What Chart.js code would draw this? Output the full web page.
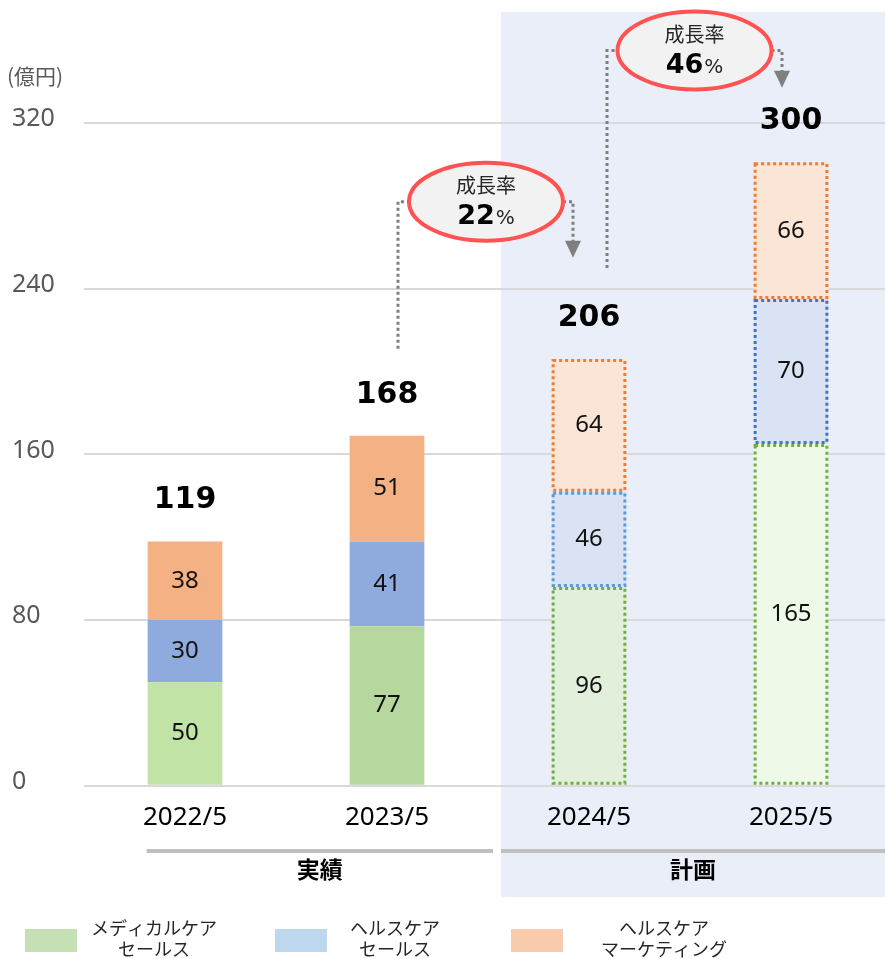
<!DOCTYPE html>
<html><head><meta charset="utf-8">
<script src="https://cdn.jsdelivr.net/npm/chart.js@4.4.1/dist/chart.umd.min.js"></script>
<style>
html,body{margin:0;padding:0;overflow:hidden;background:#fff;width:885px;height:959px;}
#wrap{position:relative;width:892px;height:959px;}
</style></head><body>
<div id="wrap"><canvas id="c"></canvas></div>
<script>
// ---- data ----
const categories = ['2022/5', '2023/5', '2024/5', '2025/5'];
const medicalCareSales = [50, 77, 96, 165];
const healthCareSales = [30, 41, 46, 70];
const healthCareMarketing = [38, 51, 64, 66];
const totals = [119, 168, 206, 300];
const growthRates = ['22', '46'];
const yTickValues = [0, 80, 160, 240, 320];
const seriesNames = [['メディカルケア', 'セールス'], ['ヘルスケア', 'セールス'], ['ヘルスケア', 'マーケティング']];
const groupLabels = ['実績', '計画'];
const unitLabel = '(億円)';
const growthTitle = '成長率';

// ---- styles ----
const fills = [
  ['#c1e3a6', '#b6d79e', '#e2efda', '#eef9e7'],
  ['#8faadc', '#8faadc', '#dae3f3', '#dae3f3'],
  ['#f4b183', '#f4b183', '#fbe5d6', '#fbe5d6']
];
const dotBorders = [
  [null, null, '#70ad47', '#70ad47'],
  [null, null, '#5b9bd5', '#4472c4'],
  [null, null, '#ed7d31', '#ed7d31']
];
const legendFills = ['#c5e0b4', '#bdd7ee', '#f8cbad'];

const JP = '"Noto Sans CJK JP", "Noto Sans", sans-serif';
const NUM = '"Noto Sans", "Noto Sans CJK JP", sans-serif';
const BOLDNUM = '"DejaVu Sans", sans-serif';

const fx = {
  id: 'fx',
  beforeDraw(chart) {
    const { ctx, scales: { x } } = chart;
    const left = (x.getPixelForValue(1) + x.getPixelForValue(2)) / 2 + 13;
    ctx.save();
    ctx.fillStyle = '#eaeef8';
    ctx.fillRect(left, 12, chart.width - left, 885);
    ctx.restore();
  },
  afterDatasetsDraw(chart) {
    const { ctx } = chart;
    ctx.save();
    chart.data.datasets.forEach((ds, di) => {
      const meta = chart.getDatasetMeta(di);
      meta.data.forEach((el, i) => {
        const col = dotBorders[di][i];
        if (!col) return;
        const p = el.getProps(['x', 'y', 'base', 'width'], true);
        ctx.strokeStyle = col;
        ctx.lineWidth = 3;
        ctx.setLineDash([3, 3]);
        ctx.strokeRect(p.x - p.width / 2 + 1.5, p.y + 1.5, p.width - 3, p.base - p.y - 3);
      });
    });
    ctx.setLineDash([]);
    ctx.fillStyle = '#111';
    ctx.textAlign = 'center';
    ctx.textBaseline = 'middle';
    ctx.font = '24px ' + NUM;
    chart.data.datasets.forEach((ds, di) => {
      const meta = chart.getDatasetMeta(di);
      meta.data.forEach((el, i) => {
        const p = el.getProps(['x', 'y', 'base'], true);
        ctx.fillText(String(ds.data[i]), p.x, (p.y + p.base) / 2);
      });
    });
    ctx.font = 'bold 30px ' + BOLDNUM;
    ctx.fillStyle = '#000';
    const top = chart.getDatasetMeta(chart.data.datasets.length - 1);
    top.data.forEach((el, i) => {
      const p = el.getProps(['x', 'y'], true);
      ctx.fillText(String(totals[i]), p.x, p.y - 41);
    });
    ctx.restore();
  },
  afterDraw(chart) {
    const { ctx, scales: { x, y } } = chart;
    const W = 885;
    ctx.save();
    ctx.fillStyle = '#595959';
    ctx.font = '21px ' + JP;
    ctx.textAlign = 'left';
    ctx.textBaseline = 'middle';
    ctx.fillText(unitLabel, 7, 76);

    const barW = chart.getDatasetMeta(0).data[0].width;
    const bgLeft = (x.getPixelForValue(1) + x.getPixelForValue(2)) / 2 + 13;
    const g1L = x.getPixelForValue(0) - barW / 2 - 1, g1R = bgLeft - 8;
    const g2L = bgLeft, g2R = W;
    ctx.fillStyle = '#bfbfbf';
    ctx.fillRect(g1L, 849, g1R - g1L, 4);
    ctx.fillRect(g2L, 849, g2R - g2L, 4);
    ctx.fillStyle = '#000';
    ctx.font = 'bold 23px ' + JP;
    ctx.textAlign = 'center';
    ctx.fillText(groupLabels[0], (g1L + g1R) / 2, 869);
    ctx.fillText(groupLabels[1], (g2L + g2R) / 2, 869);

    const callouts = [
      { from: 1, to: 2, cy: 282, leftEnd: 211, tip: 255, dx: -2, lOff: 11, rOff: -16 },
      { from: 2, to: 3, cy: 355, leftEnd: 250, tip: 337, dx: 4.5, lOff: 18, rOff: -9 }
    ];
    callouts.forEach((c, k) => {
      const x1 = x.getPixelForValue(c.from), x2 = x.getPixelForValue(c.to);
      const cx = (x1 + x2) / 2 + c.dx, cy = y.getPixelForValue(c.cy);
      const rx = 77, ry = 39;
      const lx = x1 + c.lOff, ax = x2 + c.rOff;
      const tipY = y.getPixelForValue(c.tip);
      ctx.strokeStyle = '#7f7f7f';
      ctx.lineWidth = 3;
      ctx.setLineDash([3, 3]);
      ctx.beginPath();
      ctx.moveTo(lx, y.getPixelForValue(c.leftEnd));
      ctx.lineTo(lx, cy);
      ctx.lineTo(cx - rx, cy);
      ctx.moveTo(cx + rx, cy);
      ctx.lineTo(ax, cy);
      ctx.lineTo(ax, tipY - 16);
      ctx.stroke();
      ctx.setLineDash([]);
      ctx.fillStyle = '#7f7f7f';
      ctx.beginPath();
      ctx.moveTo(ax - 8, tipY - 17);
      ctx.lineTo(ax + 8, tipY - 17);
      ctx.lineTo(ax, tipY);
      ctx.closePath();
      ctx.fill();
      ctx.beginPath();
      ctx.ellipse(cx, cy, rx, ry, 0, 0, Math.PI * 2);
      ctx.fillStyle = '#f2f2f2';
      ctx.fill();
      ctx.lineWidth = 4;
      ctx.strokeStyle = '#ff5353';
      ctx.stroke();
      ctx.fillStyle = '#262626';
      ctx.textAlign = 'center';
      ctx.textBaseline = 'middle';
      ctx.font = '20px ' + JP;
      ctx.fillText(growthTitle, cx, cy - 16);
      ctx.font = 'bold 27px ' + BOLDNUM;
      const n = growthRates[k];
      const nw = ctx.measureText(n).width;
      ctx.font = '20px ' + BOLDNUM;
      const pw = ctx.measureText('%').width;
      const sx = cx - (nw + pw + 1) / 2;
      ctx.textAlign = 'left';
      ctx.textBaseline = 'alphabetic';
      ctx.font = 'bold 27px ' + BOLDNUM;
      ctx.fillStyle = '#000';
      ctx.fillText(n, sx, cy + 22);
      ctx.font = '20px ' + BOLDNUM;
      ctx.fillStyle = '#262626';
      ctx.fillText('%', sx + nw + 1, cy + 22);
    });

    const swX = [25, 275, 511], txX = [154, 395, 664];
    ctx.textAlign = 'center';
    ctx.textBaseline = 'middle';
    ctx.font = '18px ' + JP;
    seriesNames.forEach((lines, i) => {
      ctx.fillStyle = legendFills[i];
      ctx.fillRect(swX[i], 929, 52, 23);
      ctx.fillStyle = '#262626';
      lines.forEach((t, j) => ctx.fillText(t, txX[i], 928 + j * 21));
    });
    ctx.restore();
  }
};

new Chart(document.getElementById('c'), {
  type: 'bar',
  data: {
    labels: categories,
    datasets: [
      { label: seriesNames[0].join(''), data: medicalCareSales, backgroundColor: fills[0] },
      { label: seriesNames[1].join(''), data: healthCareSales, backgroundColor: fills[1] },
      { label: seriesNames[2].join(''), data: healthCareMarketing, backgroundColor: fills[2] }
    ]
  },
  options: {
    responsive: true,
    maintainAspectRatio: false,
    animation: false,
    events: [],
    layout: { padding: { top: 123, left: 12, right: 0, bottom: 110 } },
    datasets: { bar: { categoryPercentage: 1, barPercentage: 0.37, borderWidth: 0 } },
    plugins: { legend: { display: false }, tooltip: { enabled: false } },
    scales: {
      x: {
        stacked: true,
        grid: { display: false, drawTicks: false },
        border: { display: false },
        ticks: { color: '#000', font: { family: NUM, size: 26 }, padding: 16, maxRotation: 0, autoSkip: false }
      },
      y: {
        stacked: true,
        min: 0, max: 320,
        afterBuildTicks: (s) => { s.ticks = yTickValues.map(v => ({ value: v })); },
        afterFit: (s) => { s.width = 72; },
        grid: { color: '#d9d9d9', lineWidth: 2, drawTicks: false },
        border: { display: false },
        ticks: { color: '#595959', font: { family: NUM, size: 25 }, crossAlign: 'far', labelOffset: -4, padding: 0 }
      }
    }
  },
  plugins: [fx]
});
</script>
</body></html>
